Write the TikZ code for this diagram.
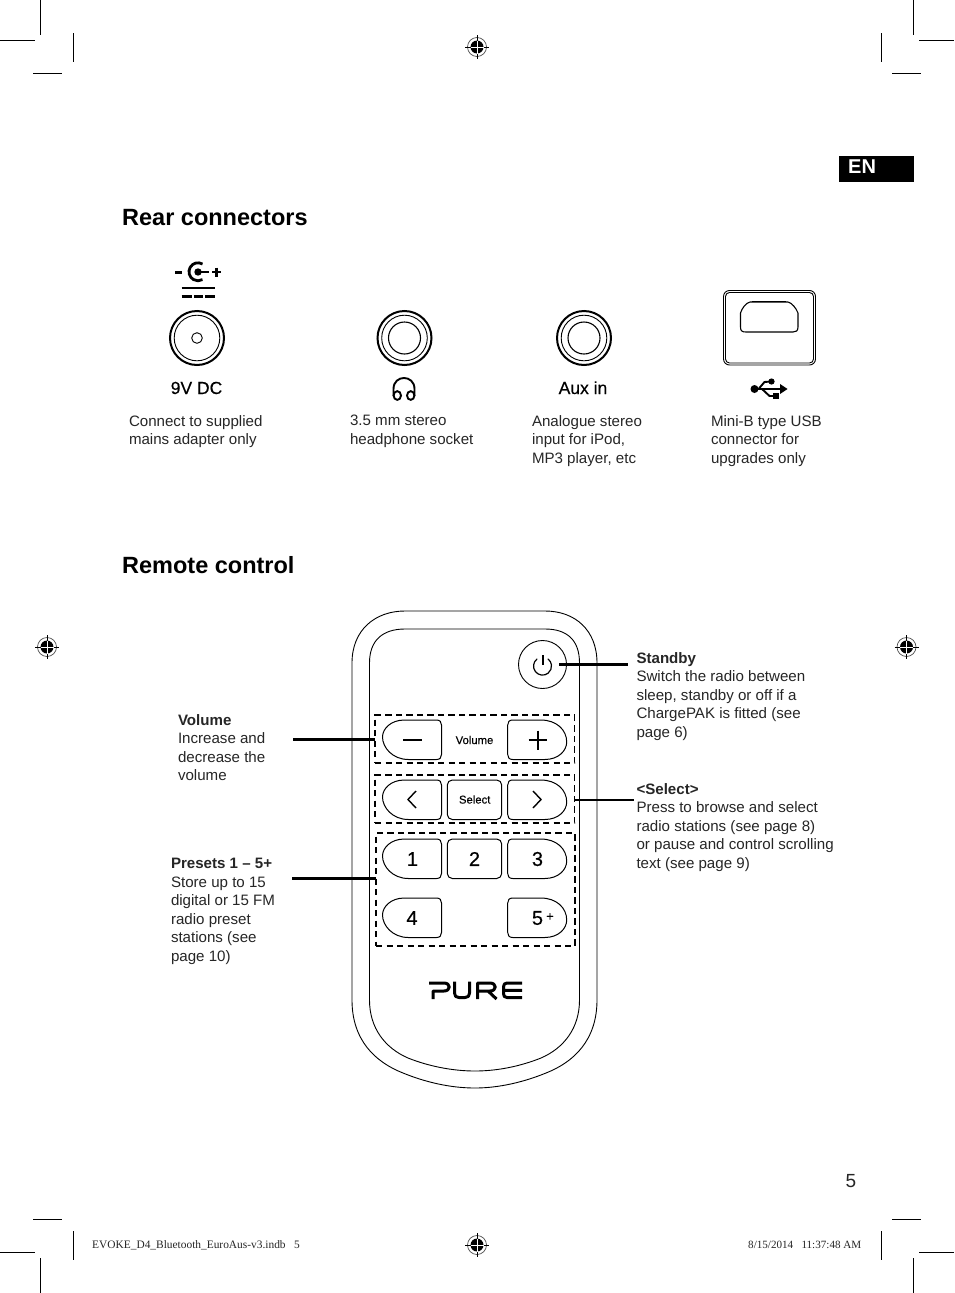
\documentclass[tikz,border=0pt]{standalone}
\usepackage{fontspec}
\setmainfont{Liberation Sans}
\newfontfamily\footerfont{Liberation Serif}
\newfontfamily\medfont[FakeBold=0.35]{Liberation Sans}
\definecolor{ink}{HTML}{262626}
\tikzset{
  x=1pt,y=-1pt,
  cropmark/.style={line width=1pt,black},
  outline/.style={line width=0.9pt,black},
  btn/.style={line width=1pt,black},
  dashbox/.style={line width=1.8pt,black,dash pattern=on 6.2pt off 4.3pt},
  leaderthick/.style={line width=3pt,black},
  leaderthin/.style={line width=2pt,black},
  body/.style={anchor=north west,inner sep=0pt,outer sep=0pt,align=left,text=ink,font=\fontsize{15.1}{18.55}\selectfont},
  heading/.style={anchor=base west,inner sep=0pt,text=black,font=\fontsize{23.5}{28}\selectfont\bfseries},
  sublabel/.style={anchor=base,inner sep=0pt,text=black,font=\medfont\fontsize{17.5}{20}\selectfont},
  btnlabel/.style={anchor=center,inner sep=0pt,text=black,font=\medfont\fontsize{11.3}{13}\selectfont},
  numlabel/.style={anchor=center,inner sep=0pt,text=black,font=\medfont\fontsize{20}{24}\selectfont},
  footer/.style={anchor=base west,inner sep=0pt,text=ink,font=\footerfont\fontsize{11.4}{13}\selectfont},
  pure/.style={line width=3pt,black,line cap=butt,line join=round},
  group/.style={dashbox,draw,inner sep=0pt,outer sep=0pt,anchor=north west},
}
\newcommand{\regmark}[2]{%
  \draw[line width=0.7pt,black!70] (#1,#2) circle[radius=9.5];
  \fill[black] (#1,#2) circle[radius=6.5];
  \draw[line width=0.9pt,black] (#1-12,#2) -- (#1+12,#2) (#1,#2-12) -- (#1,#2+12);
  \draw[line width=0.7pt,white] (#1-6.5,#2) -- (#1+6.5,#2) (#1,#2-6.5) -- (#1,#2+6.5);
}
\newcommand{\leftpill}[4]{%
  \draw[btn] (#2-5,#3) -- (#1+22,#3) .. controls (#1+8,#3) and (#1,#3+9) .. (#1,#3+17)
    .. controls (#1,#4-12) and (#1+10,#4) .. (#1+26,#4) -- (#2-5,#4)
    .. controls (#2-1.5,#4) and (#2,#4-2) .. (#2,#4-5) -- (#2,#3+5)
    .. controls (#2,#3+2) and (#2-1.5,#3) .. (#2-5,#3) -- cycle;
}
\newcommand{\rightpill}[4]{%
  \draw[btn] (#1+5,#3) -- (#2-26,#3) .. controls (#2-10,#3) and (#2,#3+10) .. (#2,#3+22)
    .. controls (#2,#4-9) and (#2-8,#4) .. (#2-22,#4) -- (#1+5,#4)
    .. controls (#1+1.5,#4) and (#1,#4-2) .. (#1,#4-5) -- (#1,#3+5)
    .. controls (#1,#3+2) and (#1+1.5,#3) .. (#1+5,#3) -- cycle;
}
\begin{document}
\begin{tikzpicture}
\useasboundingbox (0,0) rectangle (954,1293);
\fill[white] (0,0) rectangle (954,1293);
% crop marks
\draw[cropmark] (40.5,0) -- (40.5,35) (0,40.5) -- (35,40.5) (73.5,33) -- (73.5,62) (33,73.5) -- (62,73.5);
\draw[cropmark] (913.5,0) -- (913.5,35) (919,40.5) -- (954,40.5) (881.5,33) -- (881.5,62) (892,73.5) -- (921,73.5);
\draw[cropmark] (40.5,1258) -- (40.5,1293) (0,1252.5) -- (35,1252.5) (73.5,1231) -- (73.5,1260) (33,1219.5) -- (62,1219.5);
\draw[cropmark] (913.5,1258) -- (913.5,1293) (919,1252.5) -- (954,1252.5) (881.5,1231) -- (881.5,1260) (892,1219.5) -- (921,1219.5);
\regmark{477}{47}
\regmark{47}{647}
\regmark{906.5}{647}
\regmark{477}{1245}
% EN tab
\fill[black] (839,156) rectangle (914,182);
\node[anchor=base west,inner sep=0pt,text=white,font=\fontsize{20}{24}\selectfont\bfseries] (en) at (848,173) {EN};
% headings
\node[heading] (rear) at (122,225.5) {Rear connectors};
\node[heading] (remote) at (122,573.5) {Remote control};
% DC symbol
\draw[line width=3pt] (175,272) -- (181.5,272);
\draw[line width=2.6pt] (216.7,267.5) -- (216.7,276.5) (212.2,272) -- (221.2,272);
\draw[line width=2.8pt] (202.5,264) arc[start angle=-60,end angle=-300,radius=9];
\fill (198,272) circle[radius=3.7];
\draw[line width=2.6pt] (198,272) -- (208.5,272);
\draw[line width=2.8pt] (181.5,288) -- (215,288);
\draw[line width=2.8pt] (181.5,296.5) -- (191.5,296.5) (193.5,296.5) -- (203,296.5) (205,296.5) -- (215,296.5);
% DC socket
\draw[line width=2pt] (197,338) circle[radius=27];
\draw[line width=0.9pt] (197,338) circle[radius=22.8];
\draw[line width=0.9pt] (197,338) circle[radius=5.3];
\node[sublabel] (dc) at (196.5,394) {9V DC};
\node[body] (dcd) at (129,415.2) {Connect to supplied\\mains adapter only};
% headphone socket
\draw[line width=2pt] (404.5,338) circle[radius=27];
\draw[line width=0.9pt] (404.5,338) circle[radius=22.8];
\draw[line width=1.1pt] (404.5,338) circle[radius=16];
\draw[line width=1.9pt] (393.5,396) -- (393.5,389) .. controls (393.5,374.3) and (414.5,374.3) .. (414.5,389) -- (414.5,396);
\draw[line width=1.9pt] (397.3,395.5) ellipse[x radius=3.7,y radius=4.4];
\draw[line width=1.9pt] (410.7,395.5) ellipse[x radius=3.7,y radius=4.4];
\node[body] (hpd) at (350,415.2) {3.5 mm stereo\\headphone socket};
% aux socket
\draw[line width=2pt] (584,338) circle[radius=27];
\draw[line width=0.9pt] (584,338) circle[radius=22.8];
\draw[line width=1.1pt] (584,338) circle[radius=16];
\node[sublabel] (aux) at (583,394) {Aux in};
\node[body] (auxd) at (532,415.2) {Analogue stereo\\input for iPod,\\MP3 player, etc};
% USB socket
\draw[line width=0.9pt,rounded corners=6pt] (723.5,290.5) rectangle (815.5,365);
\draw[line width=0.9pt,rounded corners=4pt] (725.5,292.5) rectangle (813.5,363);
\draw[line width=1.1pt] (750,302) -- (788,302) .. controls (792,303) and (796,308) .. (798,313) -- (798,327) .. controls (798,331) and (796,332) .. (793,332) -- (746,332) .. controls (742,332) and (740.5,331) .. (740.5,327) -- (740.5,313) .. controls (742,308) and (746,303) .. (750,302) -- cycle;
\draw[line width=1.8pt] (752,301.5) -- (786,301.5);
% USB icon
\fill (754.5,389) circle[radius=4];
\draw[line width=1.9pt] (754.5,389) -- (782,389);
\fill (780,384) -- (787.5,389) -- (780,394) -- cycle;
\draw[line width=1.9pt] (758.5,389) -- (764.5,382) -- (771,381.5);
\draw[line width=1.9pt] (762,389) -- (769.5,396) -- (775,396);
\fill (771.5,381.5) circle[radius=3.1];
\fill (773,393) rectangle (779,399);
\node[body] (usbd) at (711,415.2) {Mini-B type USB\\connector for\\upgrades only};
% remote body
\draw[outline] (352,663) .. controls (352,630) and (375,611) .. (405,611) -- (545,611) .. controls (575,611) and (597,630) .. (597,663)
  -- (597,1000) .. controls (597,1040) and (574,1062) .. (546,1073) .. controls (524,1082) and (499,1088) .. (475,1088)
  .. controls (450,1088) and (425,1082) .. (403,1073) .. controls (375,1062) and (352,1040) .. (352,1000) -- cycle;
\draw[outline] (369.5,663) .. controls (369.5,640) and (383,629) .. (405,629) -- (545,629) .. controls (567,629) and (579.5,640) .. (579.5,663)
  -- (579.5,1000) .. controls (579.5,1028) and (564,1048) .. (541,1058) .. controls (521,1066) and (498,1071) .. (475,1071)
  .. controls (452,1071) and (428,1066) .. (408,1058) .. controls (385,1048) and (369.5,1028) .. (369.5,1000) -- cycle;
% dashed groups
\node[group,minimum width=199.5pt,minimum height=48pt] (gvol) at (375,715) {};
\node[group,minimum width=199.5pt,minimum height=48pt] (gsel) at (375,775) {};
\node[group,minimum width=199pt,minimum height=113pt] (gnum) at (376,833) {};
% standby
\node[draw,outline,circle,minimum size=48pt,inner sep=0pt] (stby) at (542.5,664.5) {};
\draw[line width=1.2pt,line cap=round] (537,659) arc[start angle=232,end angle=-52,radius=9];
\draw[line width=1.2pt] (543,655) -- (543,665);
% buttons
\leftpill{382.5}{441.5}{720}{759.5}
\rightpill{507.7}{566.7}{720}{759.5}
\leftpill{382.5}{441.5}{780}{819.5}
\rightpill{507.7}{566.7}{780}{819.5}
\draw[btn,rounded corners=5pt] (447.3,780) rectangle (501.7,819.5);
\leftpill{382.5}{441.5}{839}{878.5}
\draw[btn,rounded corners=5pt] (447.3,839) rectangle (501.7,878.5);
\rightpill{507.7}{566.7}{839}{878.5}
\leftpill{382.5}{441.5}{898}{937.5}
\rightpill{507.7}{566.7}{898}{937.5}
% button glyphs
\draw[line width=1.05pt] (403,740) -- (422,740);
\draw[line width=1.05pt] (528.5,740) -- (547,740) (538,730.5) -- (538,749.5);
\draw[line width=1.4pt] (416,791) -- (408,799.5) -- (416,808);
\draw[line width=1.4pt] (533,791) -- (541,799.5) -- (533,808);
\node[btnlabel] (lvol) at (474.5,740) {Volume};
\node[btnlabel] (lsel) at (474.7,799.5) {Select};
\node[numlabel] (n1) at (412.5,859) {1};
\node[numlabel] (n2) at (474.5,859) {2};
\node[numlabel] (n3) at (537.5,859) {3};
\node[numlabel] (n4) at (412,918) {4};
\node[numlabel] (n5) at (537.5,918) {5};
\node[btnlabel,font=\medfont\fontsize{13}{15}\selectfont] (nplus) at (550,917) {+};
% PURE logo
\draw[pure] (429,983) -- (444,983) .. controls (451,983) and (451,991) .. (444,991) -- (433,991) -- (433,999);
\draw[pure] (454.5,981.5) -- (454.5,993) .. controls (454.5,996) and (456,997.5) .. (459,997.5) -- (465,997.5) .. controls (468,997.5) and (469.5,996) .. (469.5,993) -- (469.5,981.5);
\draw[pure] (477.5,999) -- (477.5,983) -- (490,983) .. controls (497,983) and (497,991) .. (490,991) -- (478,991) (488,991) -- (496.5,999);
\draw[pure] (522,983) -- (507,983) .. controls (504.5,983) and (503.5,984.5) .. (503.5,987) -- (503.5,993.5) .. controls (503.5,996) and (504.5,997.5) .. (507,997.5) -- (522,997.5) (503.5,990.3) -- (522,990.3);
% leaders
\coordinate (vf) at (293,739);
\coordinate (pf) at (292,878);
\coordinate (sf) at (628,664);
\coordinate (slf) at (634,799.5);
\coordinate (svr) at (559,664);
\draw[leaderthick] (vf) -- (gvol.west |- vf);
\draw[leaderthick] (pf) -- (gnum.west |- pf);
\draw[leaderthick] (svr) -- (sf);
\draw[leaderthin] (gsel.east |- slf) -- (slf);
% callouts
\node[body] (tvol) at (178,714.2) {\textbf{Volume}\\Increase and\\decrease the\\volume};
\node[body] (tpre) at (171,858.2) {\textbf{Presets 1 – 5+}\\Store up to 15\\digital or 15 FM\\radio preset\\stations (see\\page 10)};
\node[body] (tsta) at (636.5,652.2) {\textbf{Standby}\\Switch the radio between\\sleep, standby or off if a\\ChargePAK is fitted (see\\page 6)};
\node[body] (tsel) at (636.5,783.2) {\textbf{<Select>}\\Press to browse and select\\radio stations (see page 8)\\or pause and control scrolling\\text (see page 9)};
\node[anchor=base,inner sep=0pt,text=ink,font=\fontsize{19}{22}\selectfont] (pg) at (851,1187) {5};
\node[footer] (f1) at (92,1248.5) {EVOKE\_D4\_Bluetooth\_EuroAus-v3.indb\ \ \ 5};
\node[footer,font=\footerfont\fontsize{11.1}{13}\selectfont] (f2) at (748,1248.5) {8/15/2014\ \ \ 11:37:48 AM};
\end{tikzpicture}
\end{document}
